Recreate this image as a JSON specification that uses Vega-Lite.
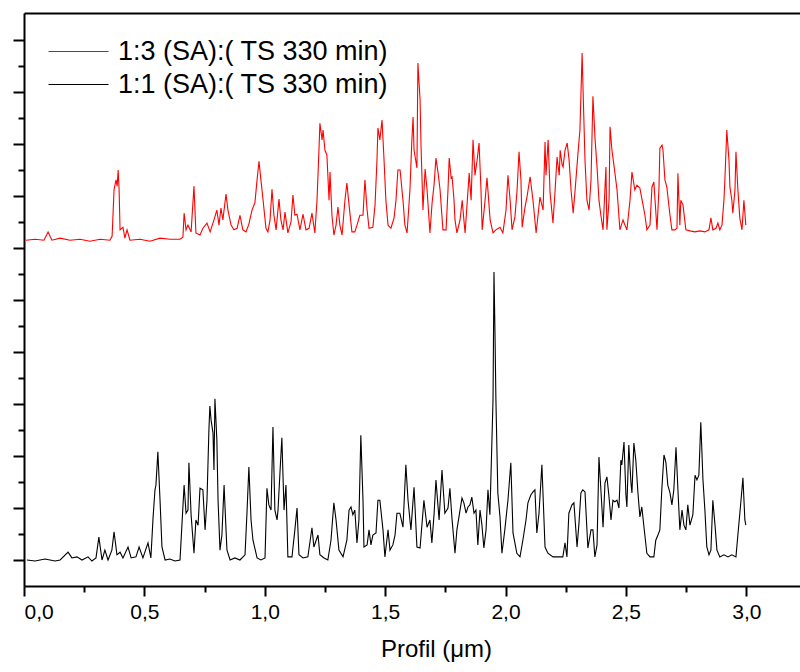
{
  "$schema": "https://vega.github.io/schema/vega-lite/v6.json",
  "width": 776,
  "height": 573,
  "autosize": "none",
  "padding": {"left": 24, "top": 13, "right": 0, "bottom": 86},
  "config": {"view": {"stroke": null}, "font": "Liberation Sans"},
  "datasets": {
    "red": [
      {"x":0.008,"y":6.15},{"x":0.046,"y":6.17},{"x":0.083,"y":6.15},{"x":0.100,"y":6.31},{"x":0.116,"y":6.15},{"x":0.150,"y":6.19},{"x":0.191,"y":6.15},{"x":0.233,"y":6.17},{"x":0.274,"y":6.13},{"x":0.316,"y":6.17},{"x":0.357,"y":6.15},{"x":0.366,"y":6.23},{"x":0.374,"y":7.12},{"x":0.382,"y":7.31},{"x":0.387,"y":7.19},{"x":0.391,"y":7.5},{"x":0.395,"y":7.12},{"x":0.399,"y":6.35},{"x":0.411,"y":6.40},{"x":0.419,"y":6.19},{"x":0.428,"y":6.35},{"x":0.440,"y":6.15},{"x":0.482,"y":6.17},{"x":0.523,"y":6.13},{"x":0.565,"y":6.19},{"x":0.606,"y":6.17},{"x":0.648,"y":6.17},{"x":0.660,"y":6.21},{"x":0.665,"y":6.67},{"x":0.673,"y":6.35},{"x":0.681,"y":6.44},{"x":0.694,"y":6.31},{"x":0.706,"y":7.19},{"x":0.714,"y":6.29},{"x":0.731,"y":6.25},{"x":0.743,"y":6.38},{"x":0.760,"y":6.48},{"x":0.773,"y":6.31},{"x":0.789,"y":6.54},{"x":0.801,"y":6.73},{"x":0.810,"y":6.44},{"x":0.818,"y":6.77},{"x":0.826,"y":6.54},{"x":0.839,"y":7.04},{"x":0.847,"y":6.73},{"x":0.860,"y":6.44},{"x":0.872,"y":6.35},{"x":0.885,"y":6.38},{"x":0.897,"y":6.63},{"x":0.909,"y":6.35},{"x":0.922,"y":6.31},{"x":0.934,"y":6.46},{"x":0.947,"y":6.73},{"x":0.959,"y":6.87},{"x":0.968,"y":7.31},{"x":0.976,"y":7.67},{"x":0.984,"y":7.31},{"x":0.993,"y":6.92},{"x":1.005,"y":6.38},{"x":1.013,"y":6.31},{"x":1.022,"y":6.54},{"x":1.030,"y":7.13},{"x":1.038,"y":6.63},{"x":1.047,"y":6.35},{"x":1.059,"y":6.94},{"x":1.067,"y":6.54},{"x":1.076,"y":6.35},{"x":1.084,"y":6.69},{"x":1.096,"y":6.29},{"x":1.109,"y":6.50},{"x":1.117,"y":7.02},{"x":1.125,"y":6.63},{"x":1.134,"y":6.65},{"x":1.146,"y":6.35},{"x":1.159,"y":6.65},{"x":1.171,"y":6.35},{"x":1.184,"y":6.38},{"x":1.196,"y":6.67},{"x":1.208,"y":6.29},{"x":1.217,"y":6.92},{"x":1.225,"y":7.88},{"x":1.229,"y":8.40},{"x":1.238,"y":8.08},{"x":1.242,"y":8.27},{"x":1.250,"y":7.88},{"x":1.258,"y":7.79},{"x":1.267,"y":6.92},{"x":1.271,"y":7.46},{"x":1.279,"y":6.63},{"x":1.287,"y":6.25},{"x":1.296,"y":6.44},{"x":1.304,"y":6.79},{"x":1.312,"y":6.44},{"x":1.321,"y":6.25},{"x":1.333,"y":6.92},{"x":1.341,"y":7.25},{"x":1.350,"y":6.83},{"x":1.362,"y":6.31},{"x":1.374,"y":6.31},{"x":1.383,"y":6.44},{"x":1.395,"y":6.63},{"x":1.408,"y":6.63},{"x":1.416,"y":7.31},{"x":1.425,"y":6.73},{"x":1.433,"y":6.38},{"x":1.449,"y":6.40},{"x":1.458,"y":6.83},{"x":1.466,"y":7.69},{"x":1.470,"y":8.31},{"x":1.478,"y":8.08},{"x":1.487,"y":8.46},{"x":1.495,"y":7.73},{"x":1.503,"y":6.92},{"x":1.512,"y":6.44},{"x":1.524,"y":6.38},{"x":1.537,"y":6.58},{"x":1.545,"y":6.92},{"x":1.553,"y":7.50},{"x":1.562,"y":7.50},{"x":1.574,"y":6.92},{"x":1.582,"y":6.44},{"x":1.591,"y":6.29},{"x":1.603,"y":7.12},{"x":1.611,"y":8.08},{"x":1.616,"y":8.52},{"x":1.620,"y":7.88},{"x":1.632,"y":7.54},{"x":1.636,"y":9.56},{"x":1.645,"y":8.85},{"x":1.649,"y":7.96},{"x":1.657,"y":6.73},{"x":1.666,"y":7.52},{"x":1.674,"y":7.12},{"x":1.686,"y":6.29},{"x":1.695,"y":6.87},{"x":1.703,"y":7.21},{"x":1.711,"y":7.73},{"x":1.720,"y":7.44},{"x":1.728,"y":7.12},{"x":1.740,"y":6.35},{"x":1.753,"y":6.35},{"x":1.761,"y":7.12},{"x":1.766,"y":7.73},{"x":1.774,"y":7.35},{"x":1.778,"y":7.37},{"x":1.786,"y":6.92},{"x":1.790,"y":6.54},{"x":1.798,"y":6.29},{"x":1.811,"y":6.54},{"x":1.820,"y":6.92},{"x":1.827,"y":6.54},{"x":1.832,"y":6.29},{"x":1.840,"y":6.83},{"x":1.849,"y":7.44},{"x":1.857,"y":6.92},{"x":1.865,"y":8.08},{"x":1.873,"y":7.40},{"x":1.882,"y":7.69},{"x":1.890,"y":8.02},{"x":1.898,"y":7.12},{"x":1.903,"y":6.35},{"x":1.915,"y":6.92},{"x":1.923,"y":7.35},{"x":1.936,"y":6.54},{"x":1.948,"y":6.29},{"x":1.960,"y":6.35},{"x":1.977,"y":6.40},{"x":1.989,"y":6.29},{"x":2.002,"y":6.73},{"x":2.010,"y":7.40},{"x":2.019,"y":6.92},{"x":2.027,"y":6.35},{"x":2.039,"y":6.60},{"x":2.048,"y":7.12},{"x":2.056,"y":7.85},{"x":2.064,"y":7.31},{"x":2.069,"y":6.40},{"x":2.081,"y":6.79},{"x":2.089,"y":6.98},{"x":2.102,"y":7.37},{"x":2.114,"y":6.92},{"x":2.127,"y":6.29},{"x":2.135,"y":6.63},{"x":2.143,"y":6.98},{"x":2.156,"y":6.73},{"x":2.164,"y":8.04},{"x":2.168,"y":7.40},{"x":2.177,"y":8.08},{"x":2.185,"y":7.06},{"x":2.197,"y":6.48},{"x":2.206,"y":7.12},{"x":2.214,"y":7.75},{"x":2.223,"y":7.40},{"x":2.227,"y":7.88},{"x":2.235,"y":7.60},{"x":2.239,"y":7.56},{"x":2.247,"y":7.88},{"x":2.256,"y":8.02},{"x":2.264,"y":7.69},{"x":2.272,"y":7.12},{"x":2.281,"y":6.67},{"x":2.289,"y":7.12},{"x":2.301,"y":7.83},{"x":2.309,"y":8.27},{"x":2.318,"y":9.75},{"x":2.322,"y":9.04},{"x":2.330,"y":7.69},{"x":2.338,"y":6.92},{"x":2.347,"y":6.73},{"x":2.355,"y":7.31},{"x":2.363,"y":8.92},{"x":2.372,"y":8.08},{"x":2.380,"y":7.56},{"x":2.388,"y":6.92},{"x":2.396,"y":6.63},{"x":2.405,"y":6.35},{"x":2.417,"y":7.56},{"x":2.421,"y":6.35},{"x":2.430,"y":6.92},{"x":2.434,"y":8.33},{"x":2.442,"y":7.88},{"x":2.450,"y":7.60},{"x":2.463,"y":7.12},{"x":2.475,"y":6.35},{"x":2.488,"y":6.54},{"x":2.496,"y":6.44},{"x":2.504,"y":6.35},{"x":2.517,"y":6.92},{"x":2.525,"y":7.46},{"x":2.537,"y":7.12},{"x":2.546,"y":7.21},{"x":2.558,"y":7.15},{"x":2.571,"y":6.83},{"x":2.579,"y":6.63},{"x":2.587,"y":6.35},{"x":2.600,"y":6.44},{"x":2.608,"y":7.17},{"x":2.616,"y":7.27},{"x":2.629,"y":6.35},{"x":2.637,"y":7.12},{"x":2.641,"y":7.92},{"x":2.650,"y":7.98},{"x":2.654,"y":7.88},{"x":2.662,"y":7.31},{"x":2.670,"y":7.17},{"x":2.683,"y":6.63},{"x":2.691,"y":6.35},{"x":2.703,"y":6.35},{"x":2.712,"y":6.38},{"x":2.716,"y":7.44},{"x":2.724,"y":6.44},{"x":2.728,"y":6.92},{"x":2.737,"y":6.83},{"x":2.749,"y":6.35},{"x":2.766,"y":6.33},{"x":2.786,"y":6.31},{"x":2.807,"y":6.33},{"x":2.828,"y":6.31},{"x":2.845,"y":6.35},{"x":2.853,"y":6.58},{"x":2.861,"y":6.35},{"x":2.874,"y":6.38},{"x":2.882,"y":6.48},{"x":2.890,"y":6.35},{"x":2.899,"y":6.44},{"x":2.907,"y":6.92},{"x":2.911,"y":7.31},{"x":2.919,"y":8.27},{"x":2.928,"y":7.69},{"x":2.932,"y":7.17},{"x":2.940,"y":6.92},{"x":2.944,"y":6.67},{"x":2.953,"y":7.12},{"x":2.957,"y":7.85},{"x":2.965,"y":7.12},{"x":2.973,"y":6.58},{"x":2.982,"y":6.35},{"x":2.990,"y":6.92},{"x":2.998,"y":6.44}
    ],
    "black": [
      {"x":0.012,"y":0},{"x":0.046,"y":-0.02},{"x":0.087,"y":0.02},{"x":0.129,"y":-0.02},{"x":0.150,"y":0},{"x":0.183,"y":0.15},{"x":0.199,"y":0.04},{"x":0.220,"y":0.06},{"x":0.241,"y":0},{"x":0.266,"y":0.06},{"x":0.282,"y":-0.02},{"x":0.299,"y":0.04},{"x":0.311,"y":0.44},{"x":0.324,"y":0},{"x":0.336,"y":0.19},{"x":0.349,"y":0},{"x":0.365,"y":0.19},{"x":0.374,"y":0.54},{"x":0.386,"y":0.10},{"x":0.399,"y":0.15},{"x":0.411,"y":0.04},{"x":0.432,"y":0.25},{"x":0.445,"y":0.04},{"x":0.465,"y":0.06},{"x":0.478,"y":0.25},{"x":0.494,"y":0.04},{"x":0.515,"y":0.33},{"x":0.527,"y":0.04},{"x":0.536,"y":0.81},{"x":0.544,"y":1.35},{"x":0.548,"y":1.44},{"x":0.556,"y":2.08},{"x":0.565,"y":1.15},{"x":0.573,"y":0.25},{"x":0.586,"y":0},{"x":0.606,"y":0.02},{"x":0.627,"y":-0.02},{"x":0.648,"y":0},{"x":0.660,"y":1.02},{"x":0.665,"y":1.44},{"x":0.673,"y":0.90},{"x":0.681,"y":0.96},{"x":0.685,"y":1.87},{"x":0.694,"y":0.87},{"x":0.706,"y":0.13},{"x":0.714,"y":0.77},{"x":0.723,"y":0.67},{"x":0.731,"y":1.38},{"x":0.743,"y":1.35},{"x":0.752,"y":0.58},{"x":0.760,"y":1.15},{"x":0.768,"y":2.5},{"x":0.772,"y":2.96},{"x":0.777,"y":2.69},{"x":0.785,"y":2.44},{"x":0.789,"y":1.73},{"x":0.793,"y":3.10},{"x":0.801,"y":2.31},{"x":0.806,"y":1.15},{"x":0.814,"y":0.19},{"x":0.822,"y":0.48},{"x":0.831,"y":1.44},{"x":0.839,"y":0.58},{"x":0.843,"y":0.19},{"x":0.856,"y":0},{"x":0.876,"y":0.04},{"x":0.897,"y":0},{"x":0.918,"y":0.10},{"x":0.926,"y":0.90},{"x":0.934,"y":1.79},{"x":0.943,"y":0.77},{"x":0.951,"y":0.38},{"x":0.968,"y":0.04},{"x":0.984,"y":0},{"x":1.001,"y":0.04},{"x":1.009,"y":1.38},{"x":1.017,"y":1.06},{"x":1.026,"y":0.96},{"x":1.034,"y":2.56},{"x":1.042,"y":0.96},{"x":1.051,"y":0.77},{"x":1.055,"y":0.96},{"x":1.063,"y":1.67},{"x":1.071,"y":2.35},{"x":1.080,"y":0.96},{"x":1.088,"y":1.44},{"x":1.096,"y":0.06},{"x":1.113,"y":0.06},{"x":1.125,"y":0.58},{"x":1.134,"y":1.0},{"x":1.142,"y":0.10},{"x":1.159,"y":0.04},{"x":1.179,"y":0.06},{"x":1.196,"y":0.62},{"x":1.204,"y":0.25},{"x":1.221,"y":0.48},{"x":1.229,"y":0.10},{"x":1.246,"y":0.04},{"x":1.262,"y":0},{"x":1.275,"y":0.38},{"x":1.287,"y":1.10},{"x":1.296,"y":0.77},{"x":1.308,"y":0.19},{"x":1.325,"y":0.06},{"x":1.341,"y":0.38},{"x":1.350,"y":0.96},{"x":1.358,"y":1.02},{"x":1.366,"y":0.87},{"x":1.374,"y":0.96},{"x":1.383,"y":0.33},{"x":1.391,"y":0.77},{"x":1.399,"y":2.40},{"x":1.408,"y":1.15},{"x":1.412,"y":0.25},{"x":1.425,"y":0.29},{"x":1.433,"y":0.58},{"x":1.441,"y":0.29},{"x":1.449,"y":0.48},{"x":1.462,"y":0.52},{"x":1.470,"y":1.15},{"x":1.478,"y":1.15},{"x":1.491,"y":0.58},{"x":1.499,"y":0.06},{"x":1.512,"y":0.58},{"x":1.520,"y":0.19},{"x":1.532,"y":0.29},{"x":1.541,"y":0.48},{"x":1.549,"y":0.90},{"x":1.561,"y":0.90},{"x":1.574,"y":0.63},{"x":1.586,"y":1.83},{"x":1.595,"y":1.15},{"x":1.607,"y":0.58},{"x":1.620,"y":1.40},{"x":1.632,"y":0.25},{"x":1.645,"y":0.23},{"x":1.661,"y":1.15},{"x":1.674,"y":0.63},{"x":1.686,"y":0.77},{"x":1.694,"y":0.33},{"x":1.703,"y":0.87},{"x":1.711,"y":1.54},{"x":1.724,"y":0.77},{"x":1.736,"y":1.73},{"x":1.748,"y":0.90},{"x":1.761,"y":1.0},{"x":1.769,"y":1.38},{"x":1.777,"y":0.83},{"x":1.790,"y":0.13},{"x":1.798,"y":0.58},{"x":1.811,"y":0.96},{"x":1.819,"y":1.19},{"x":1.827,"y":1.10},{"x":1.836,"y":0.90},{"x":1.844,"y":1.02},{"x":1.852,"y":1.06},{"x":1.860,"y":1.21},{"x":1.869,"y":0.90},{"x":1.877,"y":0.96},{"x":1.885,"y":0.29},{"x":1.894,"y":0.96},{"x":1.902,"y":0.67},{"x":1.910,"y":0.23},{"x":1.919,"y":0.58},{"x":1.927,"y":1.35},{"x":1.935,"y":0.87},{"x":1.939,"y":1.54},{"x":1.948,"y":3.08},{"x":1.952,"y":5.54},{"x":1.956,"y":4.42},{"x":1.960,"y":3.08},{"x":1.968,"y":1.29},{"x":1.977,"y":0.83},{"x":1.985,"y":0.13},{"x":1.997,"y":0.58},{"x":2.010,"y":1.15},{"x":2.022,"y":1.87},{"x":2.031,"y":0.52},{"x":2.047,"y":0.13},{"x":2.060,"y":0.06},{"x":2.072,"y":0.38},{"x":2.085,"y":0.77},{"x":2.093,"y":1.10},{"x":2.105,"y":1.25},{"x":2.114,"y":1.31},{"x":2.122,"y":1.35},{"x":2.130,"y":0.52},{"x":2.139,"y":0.90},{"x":2.151,"y":1.83},{"x":2.164,"y":0.25},{"x":2.176,"y":0.13},{"x":2.197,"y":0.06},{"x":2.218,"y":0.06},{"x":2.238,"y":0.06},{"x":2.247,"y":0.33},{"x":2.255,"y":0.06},{"x":2.263,"y":0.90},{"x":2.276,"y":1.06},{"x":2.284,"y":1.10},{"x":2.297,"y":0.25},{"x":2.305,"y":0.71},{"x":2.313,"y":1.29},{"x":2.321,"y":1.35},{"x":2.330,"y":1.31},{"x":2.342,"y":0.23},{"x":2.355,"y":0.58},{"x":2.363,"y":0.58},{"x":2.371,"y":0.06},{"x":2.380,"y":0.29},{"x":2.388,"y":1.98},{"x":2.396,"y":1.35},{"x":2.405,"y":0.63},{"x":2.413,"y":1.48},{"x":2.421,"y":1.60},{"x":2.429,"y":1.25},{"x":2.438,"y":0.77},{"x":2.446,"y":1.15},{"x":2.454,"y":1.12},{"x":2.463,"y":1.15},{"x":2.471,"y":1.0},{"x":2.479,"y":1.92},{"x":2.483,"y":1.83},{"x":2.492,"y":2.27},{"x":2.500,"y":1.25},{"x":2.504,"y":1.02},{"x":2.512,"y":2.21},{"x":2.521,"y":1.48},{"x":2.525,"y":1.29},{"x":2.533,"y":2.25},{"x":2.541,"y":1.92},{"x":2.550,"y":1.29},{"x":2.558,"y":0.83},{"x":2.566,"y":1.02},{"x":2.575,"y":0.63},{"x":2.587,"y":0.13},{"x":2.600,"y":0.06},{"x":2.616,"y":0.06},{"x":2.624,"y":0.38},{"x":2.633,"y":0.48},{"x":2.641,"y":0.58},{"x":2.649,"y":1.35},{"x":2.658,"y":2.02},{"x":2.666,"y":1.88},{"x":2.674,"y":1.44},{"x":2.683,"y":1.29},{"x":2.691,"y":1.06},{"x":2.699,"y":1.35},{"x":2.708,"y":2.17},{"x":2.716,"y":1.35},{"x":2.724,"y":0.58},{"x":2.733,"y":0.96},{"x":2.741,"y":0.67},{"x":2.749,"y":0.58},{"x":2.757,"y":1.06},{"x":2.766,"y":0.67},{"x":2.778,"y":0.87},{"x":2.787,"y":1.63},{"x":2.795,"y":1.54},{"x":2.803,"y":1.63},{"x":2.811,"y":2.65},{"x":2.820,"y":1.54},{"x":2.828,"y":0.96},{"x":2.836,"y":0.25},{"x":2.845,"y":0.10},{"x":2.853,"y":0.19},{"x":2.861,"y":1.15},{"x":2.870,"y":0.67},{"x":2.878,"y":0.19},{"x":2.890,"y":0.06},{"x":2.907,"y":0.10},{"x":2.924,"y":0.06},{"x":2.940,"y":0.10},{"x":2.957,"y":0.06},{"x":2.965,"y":0.48},{"x":2.978,"y":1.15},{"x":2.986,"y":1.58},{"x":2.994,"y":0.77},{"x":2.998,"y":0.67}
    ]
  },
  "encoding": {
    "y": {
      "field": "y", "type": "quantitative",
      "scale": {"domain": [-0.5, 10.52], "nice": false, "zero": false},
      "axis": {
        "values": [0,0.5,1,1.5,2,2.5,3,3.5,4,4.5,5,5.5,6,6.5,7,7.5,8,8.5,9,9.5,10],
        "labels": false, "title": null, "grid": false,
        "domainColor": "black", "domainWidth": 2,
        "tickColor": "black", "tickWidth": 2,
        "tickSize": {"condition": {"test": "round(datum.value*2)%2==0", "value": 11}, "value": 6}
      }
    }
  },
  "layer": [
    {
      "data": {"name": "red"},
      "mark": {"type": "line", "strokeWidth": 1.1, "interpolate": "linear"},
      "encoding": {
        "x": {
          "field": "x", "type": "quantitative",
          "scale": {"domain": [0, 3.223], "nice": false, "zero": false},
          "axis": {
            "orient": "bottom",
            "values": [0,0.25,0.5,0.75,1,1.25,1.5,1.75,2,2.25,2.5,2.75,3],
            "labelExpr": "round(datum.value*4)%2==0 ? replace(format(datum.value,'.1f'),'.',',') : ''",
            "labelFontSize": 21, "labelColor": "black", "labelPadding": 5,
            "title": "Profil (μm)", "titleFontSize": 24, "titleFontWeight": "normal", "titleColor": "black",
            "titleX": 412, "titleY": 70, "titleBaseline": "alphabetic",
            "grid": false, "domainColor": "black", "domainWidth": 2,
            "tickColor": "black", "tickWidth": 2,
            "tickSize": {"condition": {"test": "round(datum.value*4)%2==0", "value": 10}, "value": 6}
          }
        },
        "color": {
          "datum": "1:3 (SA):( TS 330 min)",
          "scale": {"domain": ["1:3 (SA):( TS 330 min)", "1:1 (SA):( TS 330 min)"], "range": ["#ff0000", "#000000"]},
          "legend": {
            "orient": "none", "legendX": 39, "legendY": 23, "title": null,
            "symbolType": "M-2,0H2", "symbolSize": 900, "symbolStrokeWidth": 1, "symbolFillColor": "transparent",
            "labelFontSize": 27, "labelColor": "black", "labelOffset": 24, "rowPadding": 4, "labelLimit": 400
          }
        }
      }
    },
    {
      "data": {"name": "black"},
      "mark": {"type": "line", "strokeWidth": 1.1, "interpolate": "linear"},
      "encoding": {
        "x": {"field": "x", "type": "quantitative", "axis": null},
        "color": {"datum": "1:1 (SA):( TS 330 min)"}
      }
    },
    {
      "data": {"name": "black"},
      "mark": {"type": "line", "opacity": 0},
      "encoding": {
        "x": {"field": "x", "type": "quantitative",
          "axis": {"orient": "top", "labels": false, "ticks": false, "title": null, "grid": false, "domainColor": "black", "domainWidth": 2}}
      }
    }
  ],
  "resolve": {"axis": {"x": "independent"}}
}
